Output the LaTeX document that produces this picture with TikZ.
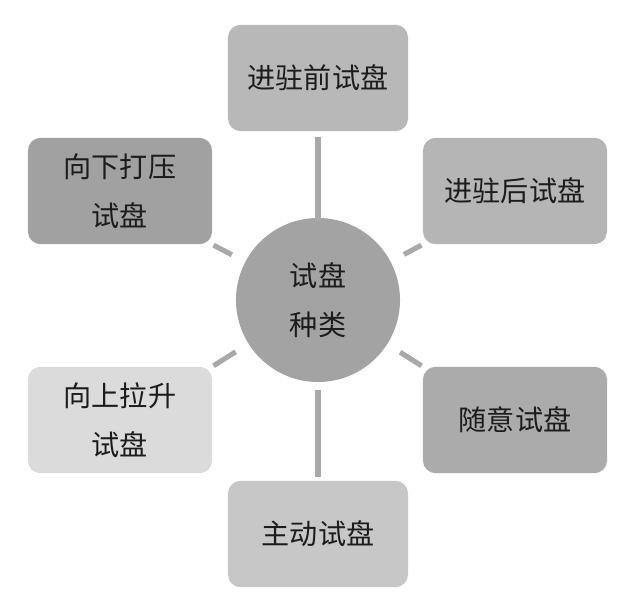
\documentclass[tikz,border=0pt]{standalone}
\usepackage{fontspec}
\usepackage{xcolor}
\usetikzlibrary{positioning}
\newfontfamily\cjk{Noto Sans CJK SC}
\definecolor{linegray}{HTML}{A9A9A9}
\definecolor{inkgray}{HTML}{1C1C1C}

\begin{document}
\begin{tikzpicture}[
  x=0.025cm,y=-0.025cm,
  b/.style={rounded corners=9pt,align=center,font=\cjk\fontsize{20}{35}\selectfont,text=inkgray,
    minimum width=4.5cm,minimum height=2.66cm,inner sep=0pt},
  kind/.style={circle,fill=#1,minimum size=4.1cm,align=center,inner sep=0pt,
    font=\cjk\fontsize{20}{35}\selectfont,text=inkgray},
  conn/.style={draw=linegray,line width=3.6pt}
]
\useasboundingbox (0,0) rectangle (640,607);
\node[kind=black!36] (c) at (318,300) {试盘\\种类};
\node[b,fill=black!28] (pre)  at (318,78)  {进驻前试盘};
\node[b,fill=black!37,minimum width=4.6cm] (down) at (120,191) {向下打压\\试盘};
\node[b,fill=black!29,minimum width=4.6cm] (post) at (515,191) {进驻后试盘};
\node[b,fill=black!14,minimum width=4.6cm] (up)   at (120,420) {向上拉升\\试盘};
\node[b,fill=black!33,minimum width=4.6cm] (rand) at (515,420) {随意试盘};
\node[b,fill=black!22] (act)  at (318,534) {主动试盘};
% spokes
\draw[conn,shorten <=-2pt,shorten >=0.125cm] (c) -- (pre);
\draw[conn,shorten <=0.2cm,shorten >=0.1cm] (c) -- (act);
\draw[conn,shorten <=0.375cm,shorten >=1pt] (c) -- (down.south east);
\draw[conn,shorten <=0.375cm,shorten >=1pt] (c) -- (post.south west);
\draw[conn,shorten <=0.375cm,shorten >=1pt] (c) -- (up.north east);
\draw[conn,shorten <=0.375cm,shorten >=1pt] (c) -- (rand.north west);
\end{tikzpicture}
\end{document}
